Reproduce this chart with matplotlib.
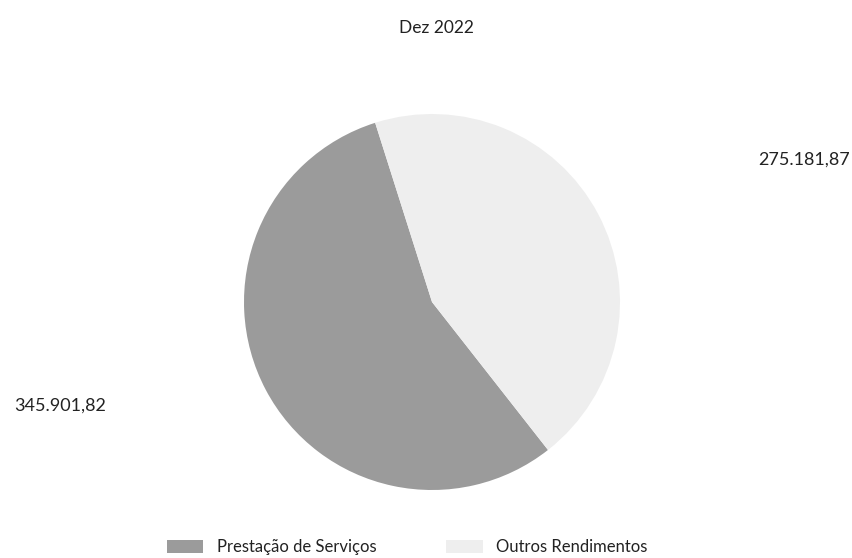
import matplotlib.pyplot as plt

categorias = ["Prestação de Serviços", "Outros Rendimentos"]
valores = [345901.82, 275181.87]
cores = ["#9b9b9b", "#eeeeee"]
titulo = "Dez 2022"


def formata_br(v):
    # 345901.82 -> 345.901,82
    return f"{v:,.2f}".replace(",", "X").replace(".", ",").replace("X", ".")


plt.rcParams["font.family"] = ["Lato", "DejaVu Sans"]
plt.rcParams["font.size"] = 11

fig = plt.figure(figsize=(8.52, 5.58), dpi=100)
ax = fig.add_axes([244 / 852, 68 / 558, 376 / 852, 376 / 558])

wedges, _ = ax.pie(valores, colors=cores, startangle=107.6, counterclock=True,
                   radius=1.0, wedgeprops=dict(linewidth=0))
ax.set_xlim(-1, 1)
ax.set_ylim(-1, 1)
ax.set_aspect("equal")
ax.axis("off")

fig.text(436 / 852, 1 - 28 / 558, titulo, ha="center", va="center", fontsize=12.5, color="#222222")

# rótulos de valor fora da pizza
fig.text(60 / 852, 1 - 406 / 558, formata_br(valores[0]), ha="center", va="center",
         fontsize=13, color="#222222")
fig.text(804 / 852, 1 - 160 / 558, formata_br(valores[1]), ha="center", va="center",
         fontsize=13, color="#222222")

fig.legend(wedges, categorias, loc="center", bbox_to_anchor=(0.478, 1 - 547 / 558),
           ncol=2, frameon=False, handlelength=2.2, handleheight=0.8,
           columnspacing=4.2, fontsize=12, labelcolor="#222222")

plt.savefig("out.png", dpi=100)
